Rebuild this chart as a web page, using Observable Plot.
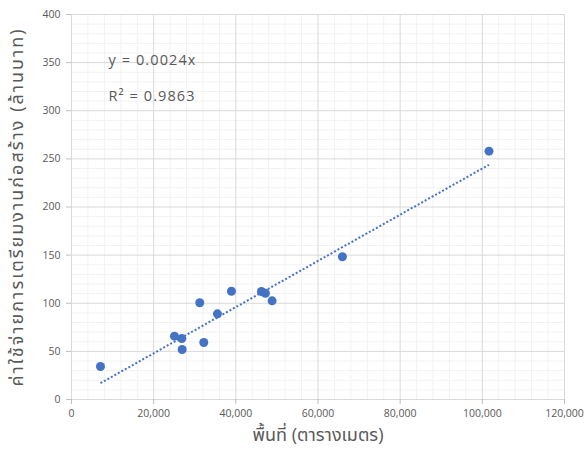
<!DOCTYPE html>
<html><head><meta charset="utf-8">
<script src="https://cdn.jsdelivr.net/npm/d3@7"></script>
<script src="https://cdn.jsdelivr.net/npm/@observablehq/plot@0.6"></script>
<style>body{margin:0;background:#fff} #chart{position:absolute;left:0;top:0}</style>
</head><body><div id="chart"></div>
<script>
// Data
const areas = [7055, 25060, 26840, 26930, 31220, 32200, 35520, 38930, 46230, 47200, 48830, 65940, 101620];
const costs = [34.3, 65.8, 63.4, 52.0, 100.5, 59.2, 89.0, 112.5, 112.2, 110.4, 102.5, 148.3, 258.0];
const slope = 0.0024;
const xTicks = [0, 20000, 40000, 60000, 80000, 100000, 120000];
const yTicks = [0, 50, 100, 150, 200, 250, 300, 350, 400];
const xMinorStep = 4000;
const yMinorStep = 10;
const equationLabel = "y = 0.0024x";
const r2Label = "R² = 0.9863";
const xTitle = "พื้นที่ (ตารางเมตร)";
const yTitle = "ค่าใช้จ่ายการเตรียมงานก่อสร้าง (ล้านบาท)";

const points = areas.map((a, i) => ({x: a, y: costs[i]}));
const xMin = d3.min(areas), xMax = d3.max(areas);
const trend = [{x: xMin, y: slope * xMin}, {x: xMax, y: slope * xMax}];
const xMinor = d3.range(0, 120000 + 1, xMinorStep).filter(v => !xTicks.includes(v));
const yMinor = d3.range(0, 400 + 1, yMinorStep).filter(v => !yTicks.includes(v));

const font = "'Segoe UI','Open Sans','Noto Sans','Noto Sans Thai',Tahoma,'DejaVu Sans',sans-serif";

const chart = Plot.plot({
  width: 586,
  height: 450,
  marginLeft: 71,
  marginRight: 22,
  marginTop: 14,
  marginBottom: 51,
  style: {fontFamily: font, color: "#595959", background: "#fff"},
  x: {domain: [0, 120000]},
  y: {domain: [0, 400]},
  marks: [
    Plot.ruleX(xMinor, {stroke: "#f2f2f2", strokeWidth: 1}),
    Plot.ruleY(yMinor, {stroke: "#f2f2f2", strokeWidth: 1}),
    Plot.ruleX(xTicks, {stroke: "#d9d9d9", strokeWidth: 1}),
    Plot.ruleY(yTicks, {stroke: "#d9d9d9", strokeWidth: 1}),
    Plot.axisX({ticks: xTicks, tickSize: 5, tickPadding: 5, stroke: "#bfbfbf", fill: "#595959", fontSize: 10.5, tickFormat: d3.format(","), label: null}),
    Plot.axisY({ticks: yTicks, tickSize: 5, tickPadding: 6, stroke: "#bfbfbf", fill: "#595959", fontSize: 10.5, label: null}),
    Plot.line(trend, {x: "x", y: "y", stroke: "#4472C4", strokeWidth: 2, strokeDasharray: "2 2", strokeLinecap: "butt"}),
    Plot.dot(points, {x: "x", y: "y", r: 4.5, fill: "#4472C4", stroke: "none"}),
    Plot.text([equationLabel], {x: 9000, y: 352, text: d => d, textAnchor: "start", fontSize: 14.5, fill: "#595959"}),
    Plot.text([r2Label], {x: 9000, y: 315, text: d => d, textAnchor: "start", fontSize: 14.5, fill: "#595959"}),
    Plot.text([xTitle], {frameAnchor: "bottom", dy: 41, text: d => d, fontSize: 18, fill: "#595959"}),
    Plot.text([yTitle], {frameAnchor: "left", dx: -54, rotate: -90, textAnchor: "middle", text: d => d, fontSize: 18, fill: "#595959"})
  ]
});
// Match the reference font metrics with a little extra spacing
d3.select(chart).selectAll("text").filter(function() {
  const t = this.textContent; return t === equationLabel || t === r2Label;
}).attr("letter-spacing", "1.1px");
d3.select(chart).selectAll("text").filter(function() {
  return this.textContent === yTitle;
}).attr("letter-spacing", "2px");
document.getElementById("chart").appendChild(chart);
</script>
</body></html>
